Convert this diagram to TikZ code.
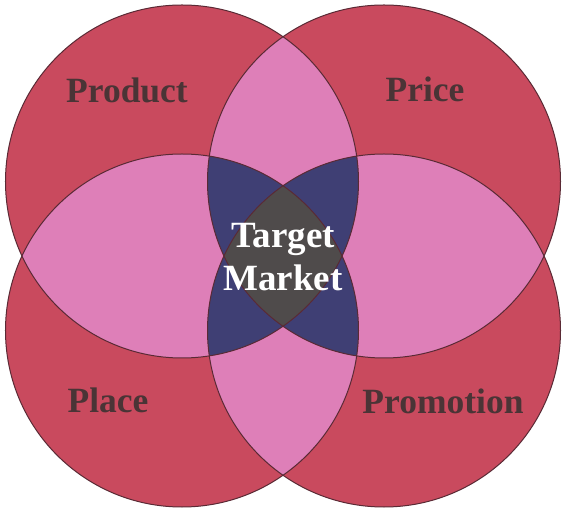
\documentclass[tikz,border=0pt]{standalone}
\usepackage{fontspec}
\setmainfont{Liberation Serif}
\usetikzlibrary{positioning}

\definecolor{onered}{HTML}{C94A5E}
\definecolor{twopink}{HTML}{DE7FB8}
\definecolor{threeblue}{HTML}{3F3F74}
\definecolor{fourgray}{HTML}{4F4B4B}
\definecolor{rimline}{HTML}{5A2A35}
\definecolor{pname}{HTML}{4A3436}

\begin{document}
\begin{tikzpicture}[x=1pt,y=1pt,
  pword/.style={font=\fontsize{35.5}{40}\selectfont\bfseries, text=pname, anchor=base},
  mword/.style={font=\fontsize{37}{43}\selectfont\bfseries, text=white, anchor=base}]
\useasboundingbox[fill=white] (-283,-254) rectangle (281,256);
\def\rad{176.5pt}
\coordinate (TL) at (-101,74.5);
\coordinate (TR) at (101,74.5);
\coordinate (BL) at (-101,-74.5);
\coordinate (BR) at (101,-74.5);
% one circle
\foreach \c in {TL,TR,BL,BR}
  \fill[onered] (\c) circle (\rad);
% two circles
\foreach \a/\b in {TL/TR,TL/BL,TR/BR,BL/BR,TL/BR,TR/BL} {
  \begin{scope}
    \clip (\a) circle (\rad);
    \fill[twopink] (\b) circle (\rad);
  \end{scope}
}
% three circles
\foreach \a/\b/\c in {TL/TR/BL,TL/TR/BR,TL/BL/BR,TR/BL/BR} {
  \begin{scope}
    \clip (\a) circle (\rad);
    \clip (\b) circle (\rad);
    \fill[threeblue] (\c) circle (\rad);
  \end{scope}
}
% all four
\begin{scope}
  \clip (TL) circle (\rad);
  \clip (TR) circle (\rad);
  \clip (BL) circle (\rad);
  \fill[fourgray] (BR) circle (\rad);
\end{scope}
\foreach \c in {TL,TR,BL,BR}
  \draw[rimline, line width=1pt] (\c) circle (\rad);

\node[pword] (product) at (-156,153) {Product};
\node[pword] (price) at (142,154) {Price};
\node[pword] (place) at (-175,-157) {Place};
\node[pword] (promotion) at (160,-158) {Promotion};
\node[mword] (target) at (0,8) {Target};
\node[mword] (market) at (0,-35) {Market};
\end{tikzpicture}
\end{document}
